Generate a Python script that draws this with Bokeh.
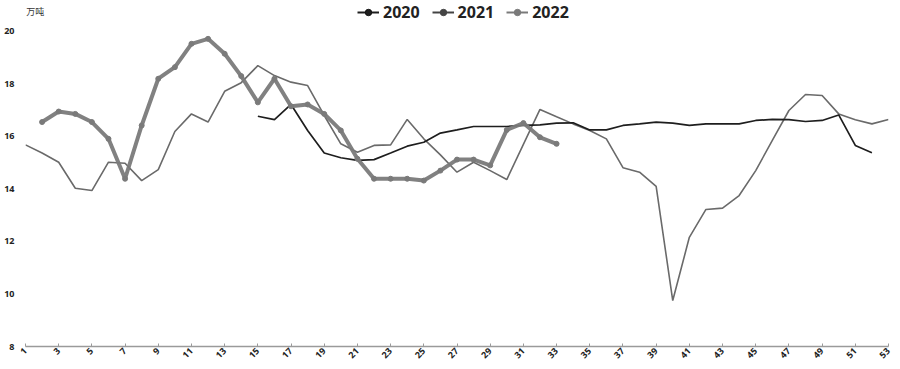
import math
from bokeh.plotting import figure
from bokeh.models import Range1d, FixedTicker, Legend, LegendItem, ColumnDataSource, Label
from bokeh.embed import file_html
from bokeh.resources import INLINE

# ---- data ----
weeks_2020 = list(range(15, 53))
vals_2020 = [16.77, 16.64, 17.22, 16.23, 15.37, 15.19, 15.09, 15.12, 15.37, 15.63,
             15.78, 16.13, 16.25, 16.38, 16.38, 16.38, 16.42, 16.44, 16.51, 16.52,
             16.25, 16.25, 16.42, 16.48, 16.55, 16.51, 16.42, 16.48, 16.48, 16.48,
             16.61, 16.65, 16.64, 16.57, 16.61, 16.82, 15.66, 15.38]

weeks_2021 = list(range(1, 54))
vals_2021 = [15.68, 15.37, 15.02, 14.03, 13.94, 15.02, 14.98, 14.32, 14.74, 16.19,
             16.86, 16.55, 17.72, 18.05, 18.70, 18.32, 18.07, 17.94, 16.80, 15.72,
             15.40, 15.66, 15.68, 16.65, 15.91, 15.30, 14.64, 15.02, 14.70, 14.36,
             15.70, 17.03, 16.75, 16.48, 16.23, 15.91, 14.81, 14.64, 14.10, 9.75,
             12.16, 13.22, 13.27, 13.75, 14.70, 15.85, 16.99, 17.60, 17.56, 16.86,
             16.64, 16.48, 16.65]

weeks_2022 = list(range(2, 34))
vals_2022 = [16.55, 16.95, 16.86, 16.55, 15.91, 14.39, 16.42, 18.20, 18.64, 19.53,
             19.72, 19.15, 18.30, 17.30, 18.20, 17.15, 17.22, 16.86, 16.23, 15.15,
             14.39, 14.39, 14.39, 14.32, 14.70, 15.12, 15.12, 14.90, 16.25, 16.51,
             15.97, 15.72]

x_ticks = list(range(1, 54, 2))
y_ticks = [8, 10, 12, 14, 16, 18, 20]
series_names = ["2020", "2021", "2022"]
unit_label = "万吨"

# ---- figure ----
p = figure(width=900, height=369, output_backend="svg", toolbar_location=None,
           x_range=Range1d(1, 53), y_range=Range1d(8, 21.18),
           min_border_left=25, min_border_right=12, min_border_top=0, min_border_bottom=23)
p.title.visible = False
p.outline_line_color = None
p.grid.grid_line_color = None
p.background_fill_color = "white"
p.border_fill_color = "white"

c2020 = "#1e1e1e"
c2021 = "#6a6a6a"
c2022 = "#7a7a7a"

r21 = p.line(weeks_2021, vals_2021, line_color=c2021, line_width=1.6)
r20 = p.line(weeks_2020, vals_2020, line_color=c2020, line_width=1.7)
r22 = p.line(weeks_2022, vals_2022, line_color=c2022, line_width=4, line_alpha=0.95)
p.scatter(weeks_2022, vals_2022, size=5, color=c2022)

# axes
p.xaxis.ticker = FixedTicker(ticks=x_ticks)
p.xaxis.major_label_orientation = math.pi / 4
p.xaxis.axis_line_color = "#9a9a9a"
p.xaxis.axis_line_width = 1.5
p.xaxis.major_tick_in = 3
p.xaxis.major_tick_out = 0
p.xaxis.major_tick_line_color = "#9a9a9a"
p.xaxis.minor_tick_line_color = None
p.xaxis.major_label_standoff = 3

p.yaxis.ticker = FixedTicker(ticks=y_ticks)
p.yaxis.axis_line_color = None
p.yaxis.major_tick_line_color = None
p.yaxis.minor_tick_line_color = None
p.yaxis.major_label_standoff = 5

for ax in (p.xaxis, p.yaxis):
    ax.major_label_text_font = "Open Sans"
    ax.major_label_text_font_style = "bold"
    ax.major_label_text_font_size = "9px"
    ax.major_label_text_color = "#222222"

# unit label
p.add_layout(Label(x=1.05, y=20.53, text=unit_label,
                   text_font="Noto Sans CJK SC", text_font_size="9px",
                   text_color="#333333"))

# legend (legend-only renderers, one off-screen point each)
items = []
for name, col in zip(series_names, [c2020, "#444444", c2022]):
    src = ColumnDataSource(data=dict(x=[-100], y=[-100]))
    lr = p.line("x", "y", source=src, line_color=col, line_width=2)
    sr = p.scatter("x", "y", source=src, size=9, fill_color=col,
                   line_color="#111111" if name == "2020" else col)
    items.append(LegendItem(label=name, renderers=[lr, sr]))

legend = Legend(items=items, orientation="horizontal", location=(332, 323),
                border_line_color=None, background_fill_alpha=0,
                label_text_font="Open Sans", label_text_font_style="bold",
                label_text_font_size="16px", label_text_color="#222222",
                glyph_width=22, glyph_height=16, label_standoff=4, spacing=12,
                padding=0, margin=0)
p.add_layout(legend, "center")

open("out.html", "w").write(file_html(p, INLINE))
